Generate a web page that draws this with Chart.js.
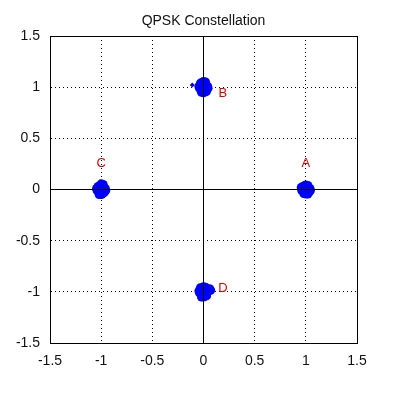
<!DOCTYPE html>
<html>
<head>
<meta charset="utf-8">
<script src="https://cdn.jsdelivr.net/npm/chart.js@4/dist/chart.umd.min.js"></script>
<style>
  html, body { margin: 0; padding: 0; background: #fff; }
  canvas { display: block; }
</style>
</head>
<body>
<canvas id="grafico" width="394" height="394"></canvas>
<script>
// received symbols around each ideal point
const clusterA = [[1.00,0.00],[1.04,0.01],[0.96,-0.01],[1.02,0.04],[0.98,-0.04],[1.03,-0.03],[0.97,0.03],[1.00,0.045],[1.00,-0.045],[1.045,-0.01],[0.955,0.02],[1.02,-0.045],[0.99,0.04]];
const clusterB = [[0.00,1.00],[0.04,1.01],[-0.04,0.99],[0.02,1.05],[-0.02,0.95],[0.03,0.96],[-0.03,1.04],[0.00,1.055],[0.00,0.945],[0.045,0.99],[-0.045,1.01],[0.02,0.955],[-0.01,1.04]];
const clusterC = [[-1.00,0.00],[-0.96,0.01],[-1.04,-0.01],[-0.98,0.05],[-1.02,-0.05],[-0.97,-0.03],[-1.03,0.03],[-1.00,0.055],[-1.00,-0.05],[-0.955,-0.01],[-1.045,0.01],[-0.99,-0.045],[-1.01,0.04]];
const clusterD = [[0.00,-1.00],[0.04,-0.99],[-0.04,-1.01],[0.02,-0.955],[-0.02,-1.05],[0.03,-1.04],[-0.03,-0.96],[0.00,-0.95],[0.00,-1.05],[0.045,-1.0],[-0.045,-0.99],[0.06,-0.97],[0.07,-0.985]];
const outliers = [[-0.11,1.02]];

const etiquetas = ["A", "B", "C", "D"];
const etiquetaX = [1.0, 0.19, -1.0, 0.19];
const etiquetaY = [0.25, 0.94, 0.25, -0.97];

const titulo = "QPSK Constellation";
const rango = [-1.5, 1.5];

const azul = "#0000ff";
const fuente = "'Liberation Sans', Arial, sans-serif";

function puntos(lista) {
  return lista.map((p) => ({ x: p[0], y: p[1] }));
}

// caja completa, titulo centrado sobre el area y etiquetas de los simbolos
const extras = {
  id: "extras",
  afterDatasetsDraw(chart) {
    const { ctx, chartArea, scales } = chart;
    ctx.save();
    ctx.strokeStyle = "#000";
    ctx.lineWidth = 1;
    ctx.strokeRect(
      Math.round(chartArea.left) + 0.5,
      Math.round(chartArea.top) + 0.5,
      Math.round(chartArea.right - chartArea.left),
      Math.round(chartArea.bottom - chartArea.top)
    );
    ctx.textAlign = "center";
    ctx.textBaseline = "middle";
    ctx.fillStyle = "#111";
    ctx.font = "14px " + fuente;
    ctx.fillText(titulo, (chartArea.left + chartArea.right) / 2, chartArea.top - 15);
    ctx.fillStyle = "#e00000";
    ctx.font = "13px " + fuente;
    etiquetas.forEach((t, i) => {
      ctx.fillText(t, scales.x.getPixelForValue(etiquetaX[i]), scales.y.getPixelForValue(etiquetaY[i]));
    });
    ctx.restore();
  },
};

const ctx = document.getElementById("grafico").getContext("2d");
new Chart(ctx, {
  type: "scatter",
  data: {
    datasets: [
      {
        type: "line",
        data: [{ x: rango[0], y: 0 }, { x: rango[1], y: 0 }],
        borderColor: "#000",
        borderWidth: 1,
        pointRadius: 0,
      },
      {
        type: "line",
        data: [{ x: 0, y: rango[0] }, { x: 0, y: rango[1] }],
        borderColor: "#000",
        borderWidth: 1,
        pointRadius: 0,
      },
      {
        data: puntos(clusterA.concat(clusterB, clusterC, clusterD)),
        backgroundColor: azul,
        borderColor: azul,
        pointRadius: 4.5,
        borderWidth: 0,
      },
      {
        data: puntos(outliers),
        backgroundColor: azul,
        borderColor: azul,
        pointStyle: "rectRot",
        pointRadius: 2.5,
        borderWidth: 0,
      },
    ],
  },
  options: {
    responsive: false,
    animation: false,
    layout: { padding: { left: 0, right: 37, top: 36, bottom: 0 } },
    plugins: {
      legend: { display: false },
      tooltip: { enabled: false },
      title: { display: false },
    },
    scales: {
      x: {
        type: "linear",
        min: rango[0],
        max: rango[1],
        afterFit: (s) => { s.height = 51; },
        ticks: { stepSize: 0.5, autoSkip: false, maxRotation: 0, color: "#111", padding: 10, font: { family: fuente, size: 14 }, callback: (v) => String(v) },
        grid: { color: "#000", drawTicks: false, lineWidth: 1 },
        border: { display: true, color: "#000", dash: [1, 3] },
      },
      y: {
        type: "linear",
        min: rango[0],
        max: rango[1],
        afterFit: (s) => { s.width = 50; },
        ticks: { stepSize: 0.5, autoSkip: false, color: "#111", padding: 10, font: { family: fuente, size: 14 }, callback: (v) => String(v) },
        grid: { color: "#000", drawTicks: false, lineWidth: 1 },
        border: { display: true, color: "#000", dash: [1, 3] },
      },
    },
  },
  plugins: [extras],
});
</script>
</body>
</html>
